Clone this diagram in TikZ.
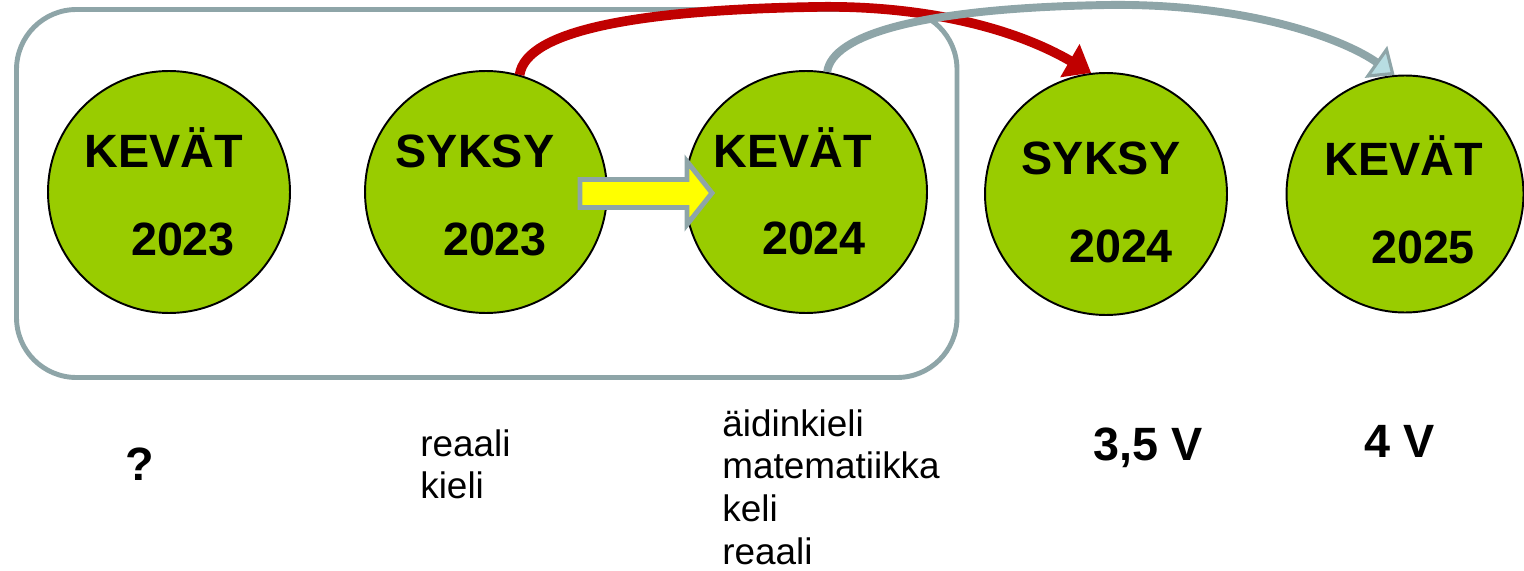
\documentclass[tikz,border=0pt]{standalone}
\usepackage{fontspec}
\setmainfont{Liberation Sans}
\usetikzlibrary{arrows.meta}
\definecolor{grn}{HTML}{99CC00}
\definecolor{framegray}{HTML}{8EA5A8}
\definecolor{redarr}{HTML}{C00000}
\definecolor{lightbl}{HTML}{B8DDE2}
\definecolor{yel}{HTML}{FFFF00}
\begin{document}
\begin{tikzpicture}[x=0.02cm,y=-0.02cm,
  season/.style={circle,draw=black,line width=1.1pt,fill=grn,minimum size=4.84cm,inner sep=0pt},
  big/.style={font=\fontsize{26.6}{30}\selectfont\bfseries,inner sep=0pt,anchor=base},
  small/.style={font=\fontsize{21}{24.4}\selectfont,inner sep=0pt,align=left,anchor=north west},
]
\useasboundingbox (0,0) rectangle (1524,571);
% frame
\draw[framegray,line width=2.8pt,rounded corners=1.2cm] (16.5,9.5) rectangle (957,377.5);
% circles
\node[season] (c1) at (169,192) {};
\node[season] (c2) at (486,192) {};
\node[season] (c3) at (806,192) {};
\node[season] (c4) at (1106,194) {};
\node[season,minimum size=4.74cm] (c5) at (1405,194) {};
% circle texts
\node[big] (t1a) at (164,167) {KEVÄT};
\node[big] (t1b) at (183,255) {2023};
\node[big] (t2a) at (475,167) {SYKSY};
\node[big] (t2b) at (495,255) {2023};
\node[big] (t3a) at (793,167) {KEVÄT};
\node[big] (t3b) at (814,254) {2024};
\node[big] (t4a) at (1101,174) {SYKSY};
\node[big] (t4b) at (1121,262) {2024};
\node[big] (t5a) at (1404,175) {KEVÄT};
\node[big] (t5b) at (1423,263) {2025};
% bottom texts
\node[big] (q) at (140,480) {?};
\node[big] (v35) at (1148,460) {3,5 V};
\node[big] (v4) at (1400,457) {4 V};
\node[small] (l2) at (420,429) {reaali\\kieli};
\node[small] (l3) at (722,409) {äidinkieli\\matematiikka\\keli\\reaali};
% yellow block arrow
\draw[framegray,line width=2.8pt,fill=yel,line join=miter]
  (580,179.5) -- (687,179.5) -- (687,161.5) -- (712,193) -- (687,224.5) -- (687,207.5) -- (580,207.5) -- cycle;
% red curved arrow
\draw[redarr,line width=5.5pt,-{Triangle[width=21pt,length=14pt]}]
  (c2.74) .. controls (526,30) and (640,10) .. (813,7)
          .. controls (900,5) and (1000,20) .. (c4.97);
% gray curved arrow
\draw[framegray,line width=4.5pt,-{Triangle[width=22pt,length=13pt,fill=lightbl,line width=1.8pt]}]
  (c3.80) .. controls (832,35) and (920,8) .. (1107,5)
          .. controls (1250,3) and (1345,40) .. (c5.95);
\end{tikzpicture}
\end{document}
